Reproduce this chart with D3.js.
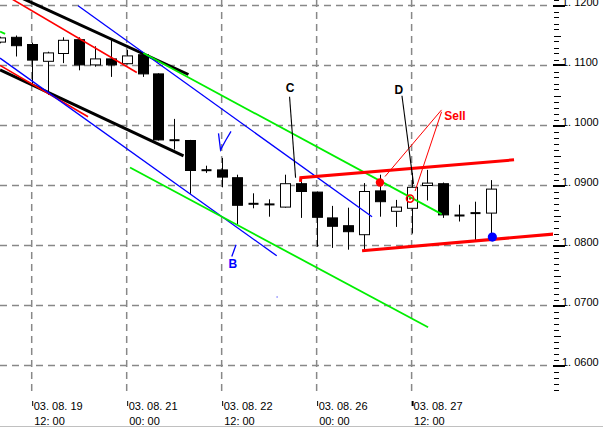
<!DOCTYPE html>
<html><head><meta charset="utf-8">
<script src="https://cdn.jsdelivr.net/npm/d3@7/dist/d3.min.js"></script>
<style>
body{margin:0;background:#fff;}
svg{display:block;}
text{font-family:"Liberation Sans",Arial,sans-serif;}
</style>
</head><body>
<script>
// ---- candle data (6-hour bars) ----
const times = ["2003-08-19 00:00","2003-08-19 06:00","2003-08-19 12:00","2003-08-19 18:00",
  "2003-08-20 00:00","2003-08-20 06:00","2003-08-20 12:00","2003-08-20 18:00",
  "2003-08-21 00:00","2003-08-21 06:00","2003-08-21 12:00","2003-08-21 18:00",
  "2003-08-22 00:00","2003-08-22 06:00","2003-08-22 12:00","2003-08-22 18:00",
  "2003-08-25 00:00","2003-08-25 06:00","2003-08-25 12:00","2003-08-25 18:00",
  "2003-08-26 00:00","2003-08-26 06:00","2003-08-26 12:00","2003-08-26 18:00",
  "2003-08-27 00:00","2003-08-27 06:00","2003-08-27 12:00","2003-08-27 18:00",
  "2003-08-28 00:00","2003-08-28 06:00","2003-08-28 12:00","2003-08-28 18:00"];
const open  = [1.1139,1.1147,1.1135,1.1107,1.1120,1.1143,1.1101,1.1111,1.1103,1.1118,1.1086,1.0977,1.0975,1.0926,1.0926,1.0913,
               1.0870,1.0869,1.0864,1.0903,1.0889,1.0846,1.0833,1.0818,1.0891,1.0857,1.0862,1.0900,1.0903,1.0850,1.0855,1.0854];
const high  = [1.1148,1.1150,1.1138,1.1123,1.1147,1.1147,1.1132,1.1143,1.1126,1.1121,1.1087,1.1011,1.0976,1.0933,1.0946,1.0918,
               1.0887,1.0877,1.0918,1.0912,1.0890,1.0866,1.0863,1.0904,1.0918,1.0876,1.0921,1.0926,1.0905,1.0868,1.0873,1.0909];
const low   = [1.1137,1.1115,1.1066,1.1051,1.1104,1.1092,1.1098,1.1081,1.1102,1.1081,1.0975,1.0960,1.0886,1.0921,1.0897,1.0835,
               1.0862,1.0848,1.0863,1.0846,1.0798,1.0796,1.0793,1.0793,1.0848,1.0831,1.0820,1.0875,1.0846,1.0840,1.0807,1.0816];
const close = [1.1146,1.1133,1.1109,1.1121,1.1142,1.1101,1.1111,1.1101,1.1116,1.1086,1.0976,1.0974,1.0925,1.0925,1.0914,1.0867,
               1.0869,1.0868,1.0903,1.0890,1.0847,1.0832,1.0823,1.0890,1.0873,1.0864,1.0897,1.0904,1.0851,1.0850,1.0853,1.0894];

// ---- axes ----
const priceTicks = [1.06,1.07,1.08,1.09,1.10,1.11,1.12];
const timeTickIdx = [2,8,14,20,26];
const timeTickLabels = [["03. 08. 19","12: 00"],["03. 08. 21","00: 00"],["03. 08. 22","12: 00"],["03. 08. 26","00: 00"],["03. 08. 27","12: 00"]];

// ---- drawn trend lines: [bar index, price] ----
const blackTop    = [[0,1.1229],[11.9,1.1085]];
const blackBottom = [[0,1.10928],[11.59,1.09495]];
const redTop      = [[0,1.12225],[8.64,1.10883]];
const redBottom   = [[0,1.11003],[5.56,1.10145]];
const blueTop     = [[4.93,1.11995],[23.5,1.08478]];
const blueBottom  = [[0,1.11123],[17.48,1.07828]];
const greenTop    = [[9.05,1.11207],[27.9,1.08523]];
const greenBottom = [[8.21,1.0930],[27.04,1.06637]];
const greenStub   = [[0,1.11567],[0.32,1.11528]];
const resistance  = [[18.98,1.0906],[19.0,1.0913],[32.47,1.09428]];
const support     = [[22.87,1.07912],[34.95,1.0819]];
const sellLineA   = [[27.89,1.1026],[24.32,1.0915]];
const sellLineB   = [[27.89,1.10228],[26.22,1.08908]];
const pointerC    = [[18.29,1.10478],[18.67,1.09128]];
const pointerD    = [[25.39,1.10495],[26.12,1.09028]];
const checkV      = [[13.80,1.0987],[13.93,1.09595],[14.25,1.0975],[14.59,1.09903]];
const pointerB    = [[14.91,1.08012],[14.64,1.07817]];

// markers [bar index, price]
const redDot   = [24.0,1.0905];
const sellMark = [25.9,1.08782];
const blueDot  = [31.1,1.0814];
const tinyDot  = [17.47,1.0715];

// annotations: text, bar index, price
const labelText  = ["C","D","Sell","B"];
const labelIdx   = [18.32,25.19,28.74,14.70];
const labelPrice = [1.10627,1.10595,1.10162,1.07695];

// ---- styles ----
const lineStyles = [
  [blackTop,"#000",3],[blackBottom,"#000",3],
  [redTop,"#f00",1.6],[redBottom,"#f00",1.6],
  [blueTop,"#00f",1.3],[blueBottom,"#00f",1.3],
  [greenTop,"#00ee00",1.8],[greenBottom,"#00ee00",1.8],[greenStub,"#00ee00",1.8],
  [resistance,"#f00",3],[support,"#f00",3],
  [sellLineA,"#f00",1],[sellLineB,"#f00",1],
  [pointerC,"#000",1.1],[pointerD,"#000",1.1],
  [checkV,"#00f",1.3],[pointerB,"#00f",1.3]
];
const labelColors = ["#000","#000","#f00","#00f"];

const W = 603, H = 427, plotR = 553, plotB = 395;
const x = d3.scaleLinear().domain([0,35]).range([0.04,554.09]);
const y = d3.scaleLinear().domain([1.06,1.12]).range([365.5,5.5]);

const svg = d3.select("body").append("svg").attr("width",W).attr("height",H);
svg.append("defs").append("clipPath").attr("id","clip")
  .append("rect").attr("x",0).attr("y",0).attr("width",plotR).attr("height",plotB);

// grid
const grid = svg.append("g");
grid.selectAll("line.h").data(priceTicks).join("line")
  .attr("x1",0).attr("x2",550).attr("y1",d=>y(d)).attr("y2",d=>y(d))
  .attr("stroke","#888").attr("stroke-width",1.5).attr("stroke-dasharray","7,5");
grid.selectAll("line.v").data(timeTickIdx).join("line")
  .attr("x1",d=>x(d)).attr("x2",d=>x(d)).attr("y1",0).attr("y2",391)
  .attr("stroke","#888").attr("stroke-width",1.5).attr("stroke-dasharray","7,5");

const plot = svg.append("g").attr("clip-path","url(#clip)");

// candles
const bars = d3.range(times.length);
plot.selectAll("line.wick").data(bars).join("line")
  .attr("x1",i=>Math.round(x(i))+0.5).attr("x2",i=>Math.round(x(i))+0.5)
  .attr("y1",i=>y(high[i])).attr("y2",i=>y(low[i]))
  .attr("stroke","#000").attr("stroke-width",1);
plot.selectAll("rect.body").data(bars).join("rect")
  .attr("x",i=>Math.round(x(i))-4.5)
  .attr("width",10)
  .attr("y",i=>{const a=y(open[i]),b=y(close[i]);const t=Math.min(a,b),h=Math.abs(a-b);return h<2?(a+b)/2-1:t;})
  .attr("height",i=>Math.max(2,Math.abs(y(open[i])-y(close[i]))))
  .attr("fill",i=>close[i]>open[i]?"#fff":"#000")
  .attr("stroke","#000").attr("stroke-width",i=>Math.abs(y(open[i])-y(close[i]))<2?0:1);

// trend lines
const lg = d3.line().x(d=>x(d[0])).y(d=>y(d[1]));
plot.selectAll("path.trend").data(lineStyles).join("path")
  .attr("d",d=>lg(d[0])).attr("fill","none")
  .attr("stroke",d=>d[1]).attr("stroke-width",d=>d[2]).attr("stroke-linecap","butt");

// markers
plot.append("circle").attr("cx",x(redDot[0])).attr("cy",y(redDot[1])).attr("r",4.2).attr("fill","#f00");
plot.append("circle").attr("cx",x(sellMark[0])).attr("cy",y(sellMark[1])).attr("r",3.6).attr("fill","none").attr("stroke","#f00").attr("stroke-width",1.6);
plot.append("circle").attr("cx",x(sellMark[0])).attr("cy",y(sellMark[1])).attr("r",1.2).attr("fill","#f00");
plot.append("circle").attr("cx",x(blueDot[0])).attr("cy",y(blueDot[1])).attr("r",4.6).attr("fill","#00f");
plot.append("rect").attr("x",x(tinyDot[0])).attr("y",y(tinyDot[1])).attr("width",1).attr("height",1).attr("fill","#00f");

// annotation labels
plot.selectAll("text.lab").data(labelText).join("text")
  .attr("x",(d,i)=>x(labelIdx[i])).attr("y",(d,i)=>y(labelPrice[i])+4)
  .attr("text-anchor","middle").attr("font-size",12).attr("font-weight","bold")
  .attr("fill",(d,i)=>labelColors[i]).text(d=>d);

// right price axis
const ax = svg.append("g");
const minor = d3.range(1056,1122).map(v=>v/1000);
ax.selectAll("line.mt").data(minor).join("line")
  .attr("x1",554).attr("x2",d=>Math.round(d*1000)%5===0?561:559)
  .attr("y1",d=>Math.round(y(d))+0.5).attr("y2",d=>Math.round(y(d))+0.5)
  .attr("stroke","#000").attr("stroke-width",1);
ax.selectAll("line.Mt").data(priceTicks).join("line")
  .attr("x1",553).attr("x2",565).attr("y1",d=>Math.round(y(d))).attr("y2",d=>Math.round(y(d)))
  .attr("stroke","#000").attr("stroke-width",2);
ax.selectAll("text.pl").data(priceTicks).join("text")
  .attr("x",562).attr("y",d=>y(d)).attr("font-size",11).attr("fill","#000")
  .text(d=>d.toFixed(4).replace(".",". "));

// bottom time axis
const tx = svg.append("g");
tx.selectAll("line.tk").data(timeTickIdx).join("line")
  .attr("x1",d=>x(d)+1).attr("x2",d=>x(d)+1).attr("y1",401).attr("y2",406)
  .attr("stroke","#000").attr("stroke-width",(d,i)=>i===timeTickIdx.length-1?2:1);
timeTickLabels.forEach((lab,i)=>{
  tx.append("text").attr("x",x(timeTickIdx[i])+2).attr("y",409.5).attr("font-size",11).text(lab[0]);
  tx.append("text").attr("x",x(timeTickIdx[i])+2.5).attr("y",424.5).attr("font-size",11).text(lab[1]);
});
svg.append("line").attr("x1",0).attr("x2",W).attr("y1",426.5).attr("y2",426.5).attr("stroke","#c0c0c0").attr("stroke-width",1);
</script>
</body></html>
